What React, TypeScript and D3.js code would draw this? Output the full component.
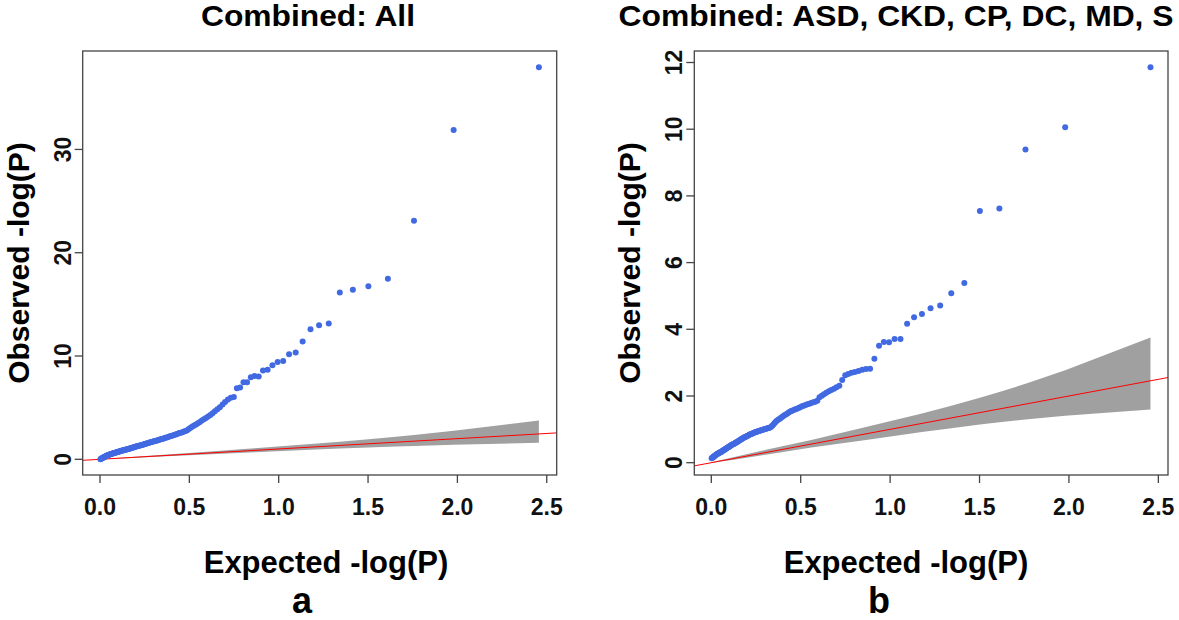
import React from 'react';
import * as d3 from 'd3';

// Expected -log10(P), same SNP ranks in both panels (largest first)
const expectedX = [
  2.456, 1.979, 1.757, 1.611, 1.502, 1.415, 1.342, 1.280, 1.226, 1.178,
  1.134, 1.095, 1.058, 1.025, 0.994, 0.965, 0.938, 0.912, 0.888, 0.865,
  0.844, 0.823, 0.803, 0.784, 0.766, 0.749, 0.732, 0.716, 0.700, 0.686,
  0.671, 0.657, 0.643, 0.630, 0.618, 0.605, 0.593, 0.581, 0.570, 0.559,
  0.548, 0.537, 0.527, 0.517, 0.507, 0.497, 0.488, 0.479, 0.470, 0.461,
  0.452, 0.444, 0.435, 0.427, 0.419, 0.411, 0.403, 0.396, 0.388, 0.381,
  0.374, 0.366, 0.359, 0.353, 0.346, 0.339, 0.333, 0.326, 0.320, 0.313,
  0.307, 0.301, 0.295, 0.289, 0.283, 0.277, 0.272, 0.266, 0.260, 0.255,
  0.250, 0.244, 0.239, 0.234, 0.228, 0.223, 0.218, 0.213, 0.208, 0.204,
  0.199, 0.194, 0.189, 0.185, 0.180, 0.175, 0.171, 0.166, 0.162, 0.158,
  0.153, 0.149, 0.145, 0.140, 0.136, 0.132, 0.128, 0.124, 0.120, 0.116,
  0.112, 0.108, 0.104, 0.100, 0.097, 0.093, 0.089, 0.085, 0.082, 0.078,
  0.074, 0.071, 0.067, 0.064, 0.060, 0.057, 0.053, 0.050, 0.046, 0.043,
  0.040, 0.036, 0.033, 0.030, 0.027, 0.023, 0.020, 0.017, 0.014, 0.011,
  0.008, 0.005, 0.002,
];

// Observed -log10(P), panel a: Combined: All
const observedA = [
  37.95, 31.88, 23.1, 17.48, 16.76, 16.42, 16.16, 13.15, 12.98, 12.58,
  11.4, 10.35, 10.18, 9.52, 9.43, 9.11, 8.67, 8.6, 8.02, 8.06,
  7.94, 7.45, 7.47, 6.95, 6.87, 6.02, 5.95, 5.8, 5.55, 5.3,
  5.05, 4.85, 4.65, 4.45, 4.3, 4.15, 4.0, 3.88, 3.75, 3.6,
  3.5, 3.38, 3.28, 3.18, 3.05, 2.93, 2.82, 2.75, 2.68, 2.62,
  2.58, 2.54, 2.48, 2.42, 2.38, 2.33, 2.29, 2.25, 2.2, 2.16,
  2.12, 2.08, 2.04, 2.0, 1.96, 1.93, 1.9, 1.86, 1.83, 1.8,
  1.77, 1.74, 1.71, 1.68, 1.65, 1.62, 1.59, 1.56, 1.53, 1.5,
  1.47, 1.44, 1.41, 1.38, 1.36, 1.33, 1.31, 1.29, 1.27, 1.25,
  1.23, 1.2, 1.17, 1.14, 1.11, 1.08, 1.06, 1.04, 1.02, 1.0,
  0.98, 0.96, 0.94, 0.92, 0.9, 0.88, 0.86, 0.84, 0.82, 0.8,
  0.78, 0.76, 0.74, 0.72, 0.7, 0.68, 0.66, 0.64, 0.62, 0.6,
  0.58, 0.56, 0.54, 0.52, 0.5, 0.48, 0.46, 0.44, 0.42, 0.39,
  0.37, 0.34, 0.31, 0.28, 0.25, 0.22, 0.19, 0.16, 0.13, 0.1,
  0.07, 0.04, 0.01,
];

// Observed -log10(P), panel b: Combined: ASD, CKD, CP, DC, MD, S
const observedB = [
  11.86, 10.06, 9.39, 7.62, 7.55, 5.39, 5.08, 4.71, 4.63, 4.46,
  4.36, 4.17, 3.71, 3.71, 3.61, 3.62, 3.51, 3.12, 2.82, 2.81,
  2.79, 2.75, 2.72, 2.7, 2.66, 2.62, 2.48, 2.31, 2.26, 2.22,
  2.18, 2.14, 2.1, 2.05, 2.01, 1.96, 1.86, 1.83, 1.81, 1.79,
  1.77, 1.75, 1.73, 1.71, 1.69, 1.66, 1.64, 1.62, 1.6, 1.58,
  1.56, 1.54, 1.51, 1.48, 1.45, 1.43, 1.4, 1.37, 1.34, 1.31,
  1.29, 1.26, 1.22, 1.18, 1.14, 1.1, 1.07, 1.05, 1.04, 1.03,
  1.02, 1.01, 1.0, 0.99, 0.98, 0.97, 0.96, 0.95, 0.94, 0.93,
  0.92, 0.91, 0.9, 0.89, 0.87, 0.86, 0.85, 0.84, 0.82, 0.81,
  0.8, 0.78, 0.77, 0.76, 0.74, 0.73, 0.71, 0.7, 0.68, 0.67,
  0.65, 0.64, 0.62, 0.61, 0.6, 0.58, 0.57, 0.56, 0.55, 0.54,
  0.53, 0.51, 0.5, 0.48, 0.47, 0.46, 0.45, 0.43, 0.42, 0.41,
  0.39, 0.38, 0.37, 0.36, 0.34, 0.33, 0.32, 0.31, 0.3, 0.29,
  0.28, 0.27, 0.26, 0.25, 0.24, 0.22, 0.21, 0.2, 0.18, 0.17,
  0.16, 0.14, 0.13,
];

// 95% confidence band around the null expectation
const bandX = [0.002, 0.116, 0.313, 0.559, 0.865, 1.178, 1.342, 1.502, 1.611, 1.757, 1.979, 2.456];
const bandUpper = [0.011, 0.158, 0.392, 0.68, 1.068, 1.475, 1.706, 1.945, 2.118, 2.364, 2.771, 3.752];
const bandLower = [0.0001, 0.079, 0.246, 0.452, 0.683, 0.923, 1.036, 1.145, 1.213, 1.297, 1.409, 1.594];

const xTicks = [0, 0.5, 1, 1.5, 2, 2.5];
const yTicksA = [0, 10, 20, 30];
const yTicksB = [0, 2, 4, 6, 8, 10, 12];

const FONT = "'Liberation Sans', Arial, Helvetica, sans-serif";
const AXIS = '#444444';

type PanelProps = {
  id: string;
  box: { left: number; right: number; top: number; bottom: number };
  xDomain: [number, number];
  yDomain: [number, number];
  yTicks: number[];
  observed: number[];
  title: string;
  titleX: number;
  titleLen: number;
  xTitleX: number;
  letter: string;
  letterX: number;
};

function Panel(p: PanelProps) {
  const { box } = p;
  const x = d3.scaleLinear().domain(p.xDomain).range([box.left, box.right]);
  const y = d3.scaleLinear().domain(p.yDomain).range([box.bottom, box.top]);
  const idx = bandX.map((_, i) => i);
  const area = d3
    .area<number>()
    .x((i) => x(bandX[i]))
    .y0((i) => y(bandLower[i]))
    .y1((i) => y(bandUpper[i]));
  const clipId = `clip-${p.id}`;
  const midY = (box.top + box.bottom) / 2;
  return (
    <g>
      <defs>
        <clipPath id={clipId}>
          <rect x={box.left} y={box.top} width={box.right - box.left} height={box.bottom - box.top} />
        </clipPath>
      </defs>
      <g clipPath={`url(#${clipId})`}>
        <path d={area(idx) || ''} fill="#a0a0a0" stroke="none" />
        <line
          x1={x(p.xDomain[0])}
          y1={y(p.xDomain[0])}
          x2={x(p.xDomain[1])}
          y2={y(p.xDomain[1])}
          stroke="#ff0000"
          strokeWidth={1}
        />
        {p.observed.map((v, i) => (
          <circle key={i} cx={x(expectedX[i])} cy={y(v)} r={3} fill="#4169E1" />
        ))}
      </g>
      <rect
        x={box.left}
        y={box.top}
        width={box.right - box.left}
        height={box.bottom - box.top}
        fill="none"
        stroke={AXIS}
        strokeWidth={1.3}
      />
      {xTicks.map((t) => (
        <g key={`xt${t}`}>
          <line x1={x(t)} x2={x(t)} y1={box.bottom} y2={box.bottom + 8} stroke={AXIS} strokeWidth={1.3} />
          <text
            x={x(t)}
            y={515}
            textAnchor="middle"
            fontFamily={FONT}
            fontWeight="bold"
            fontSize={23}
            fill="#111"
          >
            {t.toFixed(1)}
          </text>
        </g>
      ))}
      {p.yTicks.map((t) => (
        <g key={`yt${t}`}>
          <line x1={box.left - 8} x2={box.left} y1={y(t)} y2={y(t)} stroke={AXIS} strokeWidth={1.3} />
          <text
            transform={`translate(${box.left - 12},${y(t)}) rotate(-90)`}
            textAnchor="middle"
            fontFamily={FONT}
            fontWeight="bold"
            fontSize={23}
            fill="#111"
          >
            {String(t)}
          </text>
        </g>
      ))}
      <text
        transform={`translate(${box.left - 54},${midY}) rotate(-90)`}
        textAnchor="middle"
        fontFamily={FONT}
        fontWeight="bold"
        fontSize={30}
        fill="#000"
      >
        Observed -log(P)
      </text>
      <text
        x={p.xTitleX}
        y={573}
        textAnchor="middle"
        fontFamily={FONT}
        fontWeight="bold"
        fontSize={31}
        fill="#000"
      >
        Expected -log(P)
      </text>
      <text
        x={p.titleX}
        y={26}
        textAnchor="middle"
        fontFamily={FONT}
        fontWeight="bold"
        fontSize={30}
        textLength={p.titleLen}
        lengthAdjust="spacingAndGlyphs"
        fill="#000"
      >
        {p.title}
      </text>
      <text
        x={p.letterX}
        y={613}
        textAnchor="middle"
        fontFamily={FONT}
        fontWeight="bold"
        fontSize={36}
        fill="#000"
      >
        {p.letter}
      </text>
    </g>
  );
}

export default function App() {
  return (
    <svg
      width={1179}
      height={620}
      viewBox="0 0 1179 620"
      style={{ position: 'absolute', left: 0, top: 0, background: '#fff' }}
    >
      <rect x={0} y={0} width={1179} height={620} fill="#fff" />
      <Panel
        id="a"
        box={{ left: 82.7, right: 556.7, top: 51, bottom: 475 }}
        xDomain={[-0.0968, 2.5557]}
        yDomain={[-1.52, 39.53]}
        yTicks={yTicksA}
        observed={observedA}
        title="Combined: All"
        titleX={308}
        titleLen={214}
        xTitleX={326}
        letter="a"
        letterX={302}
      />
      <Panel
        id="b"
        box={{ left: 694.3, right: 1168, top: 51, bottom: 475 }}
        xDomain={[-0.0951, 2.554]}
        yDomain={[-0.369, 12.345]}
        yTicks={yTicksB}
        observed={observedB}
        title="Combined: ASD, CKD, CP, DC, MD, S"
        titleX={896}
        titleLen={555}
        xTitleX={906}
        letter="b"
        letterX={879}
      />
    </svg>
  );
}
